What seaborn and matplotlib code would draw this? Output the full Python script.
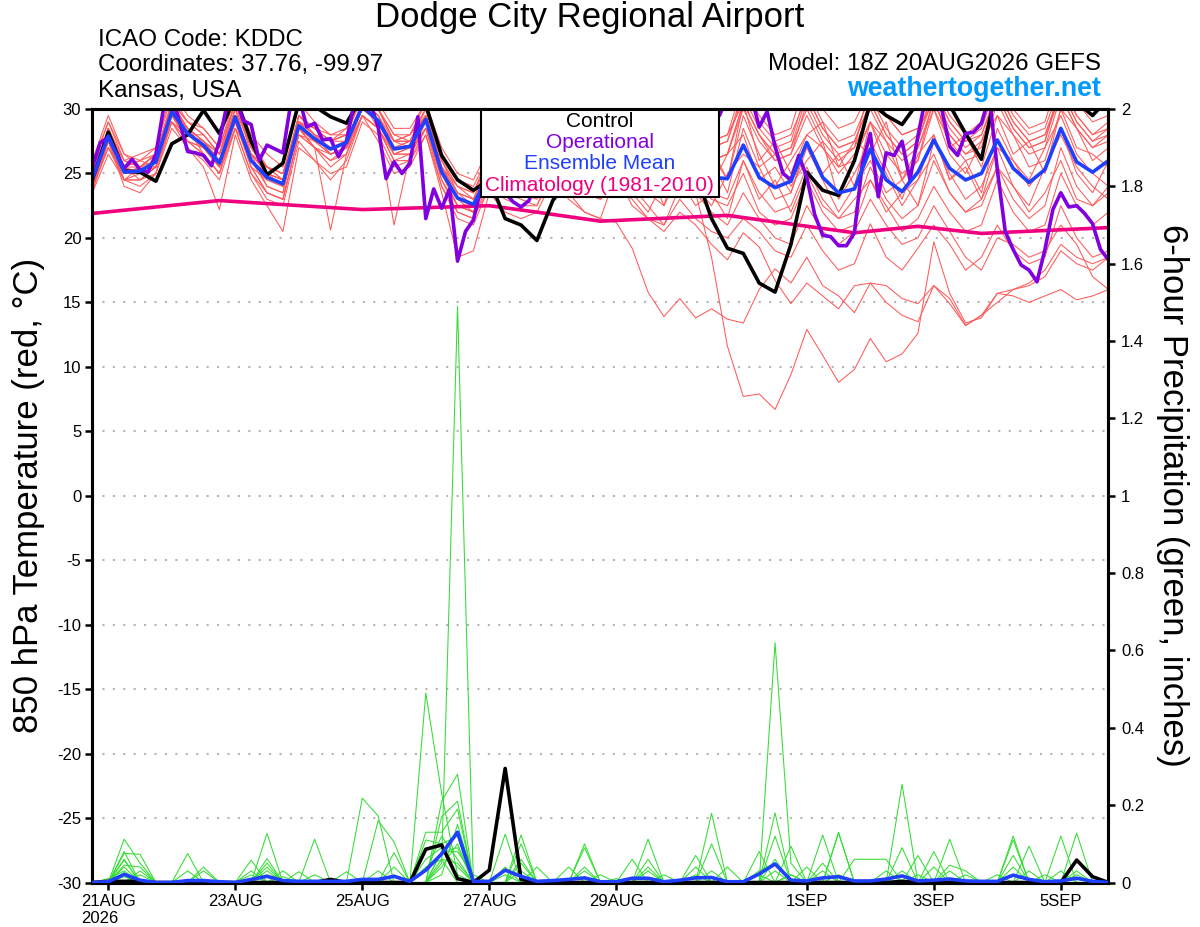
import numpy as np
import pandas as pd
import matplotlib
matplotlib.use("Agg")
import matplotlib.pyplot as plt
from matplotlib.patches import Rectangle
import seaborn as sns

# ---------------- data ----------------
START = "2026-08-20 18:00"
times6 = pd.date_range(START, periods=65, freq="6h")
times3 = pd.date_range(START, periods=129, freq="3h")

# control run (black), 850 hPa temperature, 6-hourly
control_temp = [24.5,
    28.2, 25.2, 25.1, 24.4,  27.3, 28.0, 29.9, 28.1,  31.0, 27.5, 24.9, 25.8,  30.5, 30.2, 29.4, 28.9,
    31.0, 31.5, 31.0, 31.5,  30.3, 26.4, 24.5, 23.7,  24.5, 21.5, 21.0, 19.8,  22.9, 24.5, 26.0, 27.0,
    27.5, 28.0, 28.5, 27.5,  26.5, 25.0, 21.5, 19.2,  18.8, 16.5, 15.8, 19.5,  25.1, 23.7, 23.3, 26.0,
    30.5, 29.5, 28.8, 30.5,  31.0, 30.3, 28.1, 26.1,  32.0, 31.5, 31.0, 31.5,  31.5, 30.5, 29.5, 30.8]

# operational run (purple), 3-hourly
oper_temp = [25.5,
    27.4, 27.8, 26.6, 25.4, 26.1, 25.3, 25.1, 26.5,
    30.2, 31.0, 29.0, 26.7, 26.6, 26.4, 25.6, 27.5,
    30.5, 31.0, 29.1, 28.8, 26.0, 27.2, 26.9, 26.6,
    30.5, 31.0, 28.6, 28.9, 27.6, 27.7, 26.3, 27.5,
    30.5, 31.0, 30.5, 28.6, 24.6, 25.9, 25.0, 25.8,
    29.4, 21.5, 23.8, 22.3, 23.8, 18.2, 20.5, 21.4,
    24.0, 25.0, 24.5, 23.5, 22.8, 22.4, 22.9, 24.5,
    26.0, 27.5, 28.5, 27.0, 26.0, 25.5, 27.0, 28.5,
    29.0, 27.5, 26.0, 25.0, 26.5, 28.0, 29.0, 28.0,
    26.5, 26.0, 27.5, 29.0, 30.5, 30.5, 29.5, 31.0,
    31.5, 31.5, 31.0, 28.6, 29.8, 27.1, 25.0, 24.5,
    26.4, 24.7, 21.8, 20.2, 20.1, 19.4, 19.4, 20.4,
    25.8, 28.1, 23.2, 26.6, 26.4, 27.5, 24.5, 27.9,
    31.0, 31.5, 30.0, 27.1, 26.4, 28.1, 28.2, 28.9,
    31.0, 25.3, 20.5, 19.1, 17.9, 17.5, 16.6, 19.1,
    22.2, 23.5, 22.4, 22.5, 21.9, 21.1, 19.1, 18.3]

# ensemble mean (blue)
mean_temp = [24.6,
    27.9, 25.1, 25.2, 25.9,  29.8, 28.1, 27.2, 25.8,  29.4, 26.0, 24.7, 24.2,  28.7, 27.7, 26.9, 27.4,
    30.2, 29.1, 26.9, 27.1,  29.2, 25.1, 23.1, 22.6,  25.0, 24.5, 24.0, 23.8,  26.0, 25.0, 24.5, 24.3,
    26.5, 25.0, 24.0, 24.0,  26.0, 25.0, 24.7, 24.6,  27.2, 24.7, 23.9, 24.4,  27.4, 24.7, 23.5, 23.8,
    26.9, 24.5, 23.6, 25.1,  27.6, 25.4, 24.5, 25.0,  27.6, 25.4, 24.3, 25.3,  28.5, 25.9, 25.1, 26.0]

# climatology (pink) vertices
clim_times = pd.to_datetime(["2026-08-20 18:00", "2026-08-22 18:00", "2026-08-25 00:00",
                             "2026-08-27 00:00", "2026-08-27 18:00", "2026-08-28 18:00",
                             "2026-08-30 18:00", "2026-09-01 18:00", "2026-09-02 18:00",
                             "2026-09-03 18:00", "2026-09-05 18:00"])
clim_temp = [21.9, 22.9, 22.2, 22.5, 22.0, 21.3, 21.75, 20.4, 20.9, 20.35, 20.8]

# ensemble members (red), 6-hourly
temp_m01 = [24.0, 27.5, 24.0, 23.5, 25.0, 29.0, 27.0, 26.0, 24.5, 28.5, 25.0, 23.0, 22.5, 27.5, 26.0, 24.5, 26.0,
    29.5, 27.5, 25.0, 25.5, 28.0, 23.5, 18.5, 19.0, 23.5, 22.0, 21.5, 22.0, 24.5, 23.0, 22.0, 21.5,
    25.0, 22.5, 21.5, 21.0, 24.0, 23.5, 18.5, 11.6, 7.7, 7.9, 6.7, 9.4, 12.9, 10.9, 8.8, 9.8,
    12.2, 10.4, 11.0, 12.6, 19.7, 15.7, 13.4, 13.8, 15.7, 16.0, 16.3, 17.0, 19.0, 18.0, 17.5, 18.5]
temp_m02 = [25.0, 28.5, 26.0, 26.5, 27.0, 31.0, 29.0, 28.5, 27.0, 30.5, 27.5, 25.5, 24.5, 29.5, 28.5, 28.0, 28.0,
    31.5, 30.0, 28.0, 27.5, 30.0, 26.5, 24.5, 23.5, 26.0, 25.5, 25.0, 24.5, 25.5, 23.5, 22.0, 21.5,
    21.2, 19.2, 15.8, 13.9, 15.3, 13.8, 14.5, 13.7, 13.4, 16.0, 17.6, 16.5, 18.5, 16.3, 15.5, 14.2,
    16.5, 16.3, 15.3, 14.9, 16.3, 15.3, 13.2, 14.0, 15.7, 15.5, 15.0, 15.5, 16.0, 15.2, 15.5, 16.0]
temp_m03 = [24.5, 28.0, 25.5, 24.5, 25.5, 30.5, 28.5, 26.5, 25.0, 29.0, 25.5, 23.5, 23.0, 28.0, 27.0, 25.5, 26.5,
    30.5, 28.5, 26.0, 26.0, 28.5, 24.0, 22.0, 21.5, 24.0, 23.5, 23.0, 22.5, 25.5, 24.5, 23.5, 23.0,
    24.0, 23.0, 21.5, 20.5, 22.0, 21.0, 19.5, 18.3, 20.4, 19.3, 16.7, 14.9, 16.5, 15.5, 14.5, 16.3,
    16.5, 15.0, 14.0, 13.5, 16.3, 14.9, 13.2, 14.0, 15.0, 16.0, 16.5, 17.5, 19.5, 18.5, 18.0, 18.5]
temp_m04 = [25.5, 29.0, 26.5, 25.5, 26.5, 30.0, 28.5, 27.5, 26.5, 30.0, 27.0, 25.5, 25.0, 29.5, 28.0, 27.5, 28.5,
    31.0, 30.0, 27.5, 28.0, 29.5, 26.0, 24.0, 23.5, 26.5, 25.0, 24.5, 24.0, 27.0, 25.5, 24.5, 24.0,
    26.0, 24.0, 22.5, 21.0, 23.0, 21.5, 20.5, 20.0, 21.5, 20.5, 19.0, 18.5, 21.0, 19.0, 17.5, 18.0,
    21.1, 18.5, 17.5, 19.2, 21.0, 19.5, 17.5, 18.5, 21.0, 19.0, 18.0, 18.5, 22.5, 20.0, 18.5, 19.0]
temp_m05 = [23.5, 26.5, 24.5, 24.0, 25.0, 28.5, 27.0, 25.5, 22.2, 28.0, 24.5, 22.5, 20.5, 27.0, 26.0, 25.0, 25.5,
    29.0, 28.0, 25.5, 26.0, 28.0, 24.0, 21.5, 21.0, 24.0, 23.0, 22.5, 22.5, 25.0, 24.0, 23.5, 23.0,
    26.5, 25.0, 23.5, 22.5, 25.0, 23.5, 22.0, 21.0, 23.5, 21.5, 20.0, 19.5, 22.5, 20.5, 19.5, 20.5,
    23.0, 21.0, 19.5, 20.0, 22.5, 20.5, 18.5, 17.5, 20.0, 19.5, 18.5, 19.0, 21.0, 19.5, 17.0, 16.0]
temp_m06 = [24.5, 27.0, 25.0, 25.5, 26.5, 30.5, 29.0, 28.0, 26.5, 30.5, 27.0, 25.0, 24.0, 29.0, 28.5, 27.5, 28.0,
    31.0, 30.0, 27.5, 28.0, 30.0, 25.5, 23.0, 22.0, 25.5, 24.5, 24.0, 23.5, 26.5, 25.0, 24.5, 24.0,
    27.0, 25.5, 24.0, 23.5, 26.0, 24.5, 23.0, 22.5, 25.0, 22.0, 21.0, 21.5, 24.5, 22.0, 20.5, 21.0,
    24.5, 22.5, 20.5, 21.5, 24.0, 22.0, 20.5, 21.0, 24.5, 22.0, 20.5, 21.0, 25.0, 22.5, 21.0, 22.0]
temp_m07 = [25.0, 28.0, 25.5, 25.0, 26.0, 29.5, 28.0, 27.0, 25.5, 29.0, 26.5, 25.0, 24.5, 28.5, 27.0, 26.0, 27.0,
    30.0, 29.0, 26.5, 27.0, 29.0, 25.5, 23.5, 22.5, 25.5, 25.0, 24.5, 24.0, 26.5, 25.5, 25.0, 24.5,
    27.5, 26.0, 24.5, 24.0, 26.5, 25.0, 23.5, 23.0, 26.0, 23.5, 22.0, 22.5, 25.5, 23.0, 21.5, 22.0,
    25.5, 23.0, 21.5, 22.5, 26.0, 23.5, 22.0, 22.5, 25.5, 23.0, 21.5, 22.5, 27.0, 24.0, 22.5, 23.5]
temp_m08 = [26.0, 29.5, 26.5, 26.0, 27.0, 31.5, 29.5, 28.5, 27.0, 31.0, 28.0, 26.5, 25.5, 30.5, 29.0, 28.0, 28.5,
    32.0, 30.5, 28.5, 28.5, 30.5, 27.0, 25.0, 24.5, 27.0, 26.5, 26.0, 25.5, 28.0, 27.0, 26.5, 26.0,
    30.5, 28.0, 26.5, 27.0, 30.0, 28.5, 27.0, 27.5, 31.0, 28.5, 27.0, 27.5, 31.5, 29.0, 27.5, 28.0,
    31.0, 28.5, 27.0, 28.0, 31.5, 29.0, 27.5, 28.5, 32.0, 29.5, 28.0, 28.5, 32.0, 29.5, 28.0, 29.0]
temp_m09 = [23.8, 27.0, 24.5, 25.0, 26.0, 29.0, 27.5, 26.5, 25.0, 29.5, 25.5, 23.5, 23.0, 28.0, 27.5, 26.5, 27.0,
    30.5, 29.5, 27.0, 27.5, 29.5, 25.0, 22.5, 22.0, 25.0, 24.5, 24.5, 24.0, 26.5, 25.5, 25.0, 25.0,
    28.0, 29.5, 24.0, 26.5, 27.0, 28.5, 26.5, 24.5, 30.5, 26.0, 27.5, 25.0, 28.0, 29.0, 25.5, 27.5,
    26.5, 29.0, 24.5, 26.0, 31.0, 27.0, 28.0, 25.5, 29.5, 26.5, 27.5, 25.0, 30.0, 28.5, 26.0, 27.0]
temp_m10 = [24.8, 28.5, 25.5, 26.0, 25.5, 29.5, 28.5, 27.5, 26.0, 29.0, 26.5, 25.5, 25.0, 29.0, 28.0, 27.5, 27.5,
    30.5, 29.5, 27.0, 27.5, 29.5, 26.0, 24.0, 23.0, 25.5, 25.0, 25.0, 24.5, 27.0, 26.0, 25.5, 25.5,
    26.5, 25.0, 27.0, 23.5, 25.5, 27.5, 24.0, 26.5, 28.0, 24.5, 25.5, 23.5, 27.5, 25.0, 26.5, 24.0,
    29.0, 25.5, 23.0, 26.5, 28.0, 24.5, 26.0, 23.5, 28.5, 26.0, 24.5, 27.0, 29.5, 26.5, 25.0, 24.0]
temp_m11 = [25.2, 27.5, 24.5, 24.5, 25.5, 29.0, 28.0, 28.0, 26.5, 30.5, 26.5, 24.0, 23.5, 28.5, 27.0, 26.0, 26.5,
    29.5, 28.5, 21.0, 26.5, 29.0, 24.5, 22.5, 22.0, 25.0, 24.5, 24.0, 23.5, 26.0, 25.5, 25.0, 24.5,
    31.5, 29.0, 27.5, 28.0, 31.0, 29.0, 27.5, 28.0, 32.0, 29.5, 28.0, 28.5, 32.5, 30.0, 28.5, 29.0,
    31.5, 29.5, 28.0, 28.5, 32.0, 29.5, 28.0, 29.0, 32.5, 30.0, 28.5, 29.0, 33.0, 30.5, 29.0, 29.5]
temp_m12 = [24.2, 28.5, 25.5, 25.5, 26.5, 30.5, 28.5, 27.5, 26.0, 29.5, 26.0, 24.0, 23.5, 29.5, 28.5, 27.5, 28.0,
    31.5, 30.0, 28.0, 28.0, 30.5, 26.0, 23.5, 23.0, 26.0, 25.5, 25.0, 24.5, 27.5, 26.5, 26.0, 25.5,
    29.5, 27.5, 26.0, 26.5, 29.0, 27.0, 26.0, 26.5, 30.0, 27.5, 26.0, 26.5, 30.5, 28.0, 26.5, 27.0,
    30.0, 27.5, 26.0, 27.0, 30.5, 28.0, 26.5, 27.5, 31.0, 28.5, 27.0, 27.5, 31.5, 29.0, 27.5, 28.0]
temp_m13 = [25.5, 28.0, 26.0, 25.5, 25.5, 29.5, 27.5, 27.0, 25.5, 28.5, 26.5, 25.5, 25.0, 28.5, 27.5, 27.0, 27.5,
    30.5, 29.0, 27.5, 27.0, 28.5, 25.5, 24.0, 23.5, 26.0, 25.5, 25.0, 25.0, 27.5, 26.5, 26.0, 25.5,
    27.0, 24.0, 25.5, 22.5, 26.5, 24.0, 22.5, 25.0, 26.5, 25.5, 23.0, 23.5, 27.0, 24.5, 22.0, 24.0,
    26.0, 23.5, 24.5, 22.5, 27.5, 25.0, 23.0, 24.0, 27.0, 24.0, 22.5, 25.5, 28.0, 25.5, 24.0, 23.0]
temp_m14 = [24.0, 27.0, 25.0, 25.0, 26.0, 30.0, 28.5, 27.0, 25.5, 30.0, 26.0, 24.5, 24.0, 29.0, 28.0, 26.5, 27.0,
    30.0, 29.0, 26.5, 27.0, 29.5, 25.5, 23.0, 22.5, 25.5, 25.0, 24.5, 24.5, 27.0, 26.0, 25.5, 25.0,
    30.0, 28.0, 26.5, 27.0, 30.5, 28.5, 27.0, 27.5, 31.5, 29.0, 27.5, 28.0, 31.0, 28.5, 27.0, 27.5,
    30.5, 28.0, 26.5, 27.5, 31.0, 28.5, 27.0, 28.0, 31.5, 29.0, 27.5, 28.0, 31.5, 29.0, 27.5, 28.5]
temp_m15 = [25.8, 29.0, 26.0, 25.5, 26.5, 30.5, 29.0, 28.0, 26.5, 30.0, 27.0, 25.5, 24.5, 29.5, 28.5, 27.5, 28.0,
    31.0, 30.0, 27.5, 27.5, 30.0, 26.5, 24.5, 24.0, 26.5, 26.0, 25.5, 25.0, 28.0, 27.0, 26.5, 26.0,
    28.5, 25.5, 27.5, 26.0, 27.0, 25.5, 27.0, 24.5, 29.5, 26.5, 24.0, 26.0, 28.0, 27.0, 25.0, 26.5,
    29.0, 27.5, 24.5, 27.0, 30.0, 26.5, 25.0, 27.5, 29.5, 28.0, 25.5, 26.0, 30.0, 27.0, 26.5, 25.5]
temp_m16 = [23.6, 27.5, 24.5, 24.5, 25.0, 29.5, 27.5, 26.5, 25.0, 28.5, 25.0, 23.5, 23.0, 28.0, 27.0, 20.6, 26.5,
    29.5, 28.5, 26.0, 26.5, 28.5, 24.5, 22.0, 21.5, 24.5, 24.0, 23.5, 23.5, 26.0, 25.0, 24.5, 24.0,
    31.0, 28.5, 27.0, 27.5, 29.5, 27.5, 26.0, 26.5, 30.5, 28.0, 26.5, 27.0, 31.0, 28.5, 27.0, 27.5,
    30.5, 28.0, 26.5, 27.5, 31.5, 29.0, 27.5, 28.0, 31.0, 28.5, 27.0, 27.5, 32.0, 29.5, 28.0, 28.5]
temp_m17 = [25.0, 28.5, 25.5, 26.0, 26.5, 30.0, 28.5, 27.5, 26.0, 29.5, 26.5, 25.0, 24.5, 29.0, 28.0, 27.0, 27.5,
    30.5, 29.5, 27.5, 27.5, 29.5, 25.5, 23.5, 23.0, 26.0, 25.0, 24.5, 24.0, 27.0, 26.0, 25.5, 25.0,
    29.0, 27.0, 25.5, 26.0, 29.5, 27.5, 26.0, 26.5, 30.5, 28.0, 26.0, 26.5, 29.5, 27.0, 25.5, 26.0,
    29.0, 26.5, 25.0, 26.0, 30.0, 27.5, 26.0, 26.5, 30.5, 28.0, 26.5, 27.0, 31.0, 28.5, 27.0, 27.5]
temp_m18 = [24.4, 27.5, 25.5, 25.0, 25.5, 29.0, 27.5, 27.0, 26.0, 29.0, 26.0, 25.0, 24.5, 28.5, 27.5, 26.5, 27.0,
    29.5, 28.5, 26.5, 26.5, 28.5, 25.0, 23.0, 22.5, 25.0, 24.5, 24.0, 23.5, 26.5, 25.5, 25.0, 24.5,
    25.5, 23.5, 22.0, 24.5, 24.5, 22.5, 23.5, 21.5, 26.0, 23.0, 24.5, 22.0, 25.0, 22.5, 21.5, 23.0,
    24.5, 22.0, 23.5, 24.5, 26.5, 23.5, 22.0, 23.0, 25.5, 24.0, 22.0, 23.5, 26.0, 23.0, 22.5, 24.0]
temp_m19 = [24.9, 28.0, 25.0, 25.5, 26.0, 30.0, 28.0, 27.5, 26.5, 29.5, 26.0, 25.0, 24.5, 29.0, 27.5, 27.0, 27.5,
    30.5, 29.0, 27.0, 27.0, 29.5, 25.0, 23.0, 22.5, 25.5, 25.0, 24.5, 24.0, 26.5, 25.5, 25.0, 24.5,
    30.0, 27.5, 26.0, 26.5, 31.0, 29.0, 27.5, 28.0, 30.5, 28.0, 26.5, 27.0, 30.0, 27.5, 26.0, 27.0,
    32.0, 29.5, 28.0, 28.5, 30.5, 28.0, 26.5, 27.0, 31.5, 29.0, 27.5, 28.0, 31.0, 28.5, 27.0, 28.0]
temp_m20 = [24.3, 27.5, 24.5, 25.5, 26.5, 29.5, 28.0, 27.0, 25.5, 29.0, 25.5, 24.5, 24.0, 28.5, 27.0, 26.5, 27.0,
    29.5, 28.5, 26.5, 26.5, 29.0, 25.0, 22.5, 22.0, 24.5, 24.0, 23.5, 23.0, 26.0, 25.0, 24.5, 24.0,
    26.0, 28.0, 23.5, 25.0, 27.5, 24.5, 26.0, 23.5, 28.5, 25.5, 26.5, 24.0, 26.0, 27.5, 23.0, 25.0,
    27.5, 25.0, 22.5, 24.5, 28.0, 24.5, 25.5, 23.0, 27.0, 26.0, 24.0, 25.5, 28.5, 25.0, 23.5, 26.0]

# 6-hour precipitation (inches)
control_precip = [0,
    0.003, 0.003, 0.003, 0, 0, 0, 0, 0, 0, 0, 0, 0, 0, 0, 0.008, 0,
    0, 0, 0, 0, 0.086, 0.097, 0.01, 0, 0.032, 0.295, 0.008, 0, 0, 0, 0, 0,
    0, 0, 0, 0, 0, 0, 0, 0, 0, 0, 0, 0, 0, 0, 0, 0,
    0, 0, 0.003, 0, 0, 0, 0, 0, 0, 0, 0, 0, 0, 0.058, 0.015, 0]
mean_precip = [0,
    0.002, 0.021, 0.006, 0, 0, 0.005, 0.005, 0.002, 0, 0.008, 0.016, 0.005, 0.003, 0.003, 0.003, 0.003,
    0.008, 0.008, 0.016, 0.003, 0.032, 0.074, 0.13, 0.003, 0.003, 0.032, 0.016, 0.003, 0.005, 0.008, 0.012, 0.002,
    0.002, 0.011, 0.011, 0.002, 0.006, 0.012, 0.013, 0.002, 0.002, 0.022, 0.048, 0.006, 0.004, 0.012, 0.015, 0.004,
    0.004, 0.009, 0.017, 0.004, 0.006, 0.009, 0.004, 0.003, 0.003, 0.019, 0.008, 0.002, 0.004, 0.011, 0.003, 0]

precip_g01 = [0, 0, .112, .05, 0, 0, 0, 0, 0, 0, 0, .127, 0, 0, 0, 0, 0, .218, .172, 0, 0, .49, .23, .02, 0,
    0, 0, 0, 0, 0, 0, 0, 0, 0, 0, .112, 0, 0, 0, 0, 0, 0, 0, .18, 0, 0, 0, 0, 0, 0, 0, .254, 0, 0, 0, 0, 0, 0, .12, 0, 0, 0, 0, 0, 0]
precip_g02 = [0, 0, .08, 0, 0, 0, .075, 0, 0, 0, 0, 0, 0, 0, .112, 0, 0, 0, 0, 0, 0, 0, .05, 1.49, 0,
    0, 0, .123, 0, 0, 0, 0, 0, 0, 0, 0, 0, 0, 0, .179, 0, 0, 0, .62, .05, 0, 0, .13, 0, 0, 0, 0, 0, 0, 0, 0, 0, 0, 0, 0, 0, 0, .128, 0, 0]
precip_g03 = [0, 0, .075, .073, 0, 0, 0, 0, 0, 0, .058, 0, 0, 0, 0, 0, 0, 0, .16, .105, 0, 0, .21, .28, 0,
    0, 0, 0, 0, 0, 0, .1, 0, 0, 0, 0, 0, 0, .07, 0, 0, 0, .08, 0, 0, 0, .123, 0, 0, 0, 0, 0, 0, 0, .112, 0, 0, 0, 0, 0, 0, .12, 0, 0, 0]
precip_g04 = [0, 0, .058, 0, 0, 0, 0, .04, 0, 0, 0, .062, 0, 0, 0, 0, 0, 0, 0, .077, 0, 0, .17, .21, 0,
    0, .125, 0, 0, 0, 0, 0, 0, 0, 0, .06, 0, 0, 0, 0, 0, 0, 0, .12, 0, 0, 0, .128, 0, 0, 0, 0, 0, .08, 0, 0, 0, 0, 0, .094, 0, 0, 0, 0, 0]
precip_g05 = [0, 0, .045, .04, 0, 0, 0, 0, 0, 0, 0, 0, .03, 0, 0, 0, 0, 0, 0, 0, 0, .13, .13, .19, 0,
    0, 0, .10, 0, 0, 0, 0, 0, 0, .06, 0, 0, 0, 0, .1, 0, 0, 0, 0, .094, 0, 0, 0, .06, .06, .06, 0, 0, 0, 0, 0, 0, 0, .11, 0, 0, 0, 0, 0, 0]
precip_g06 = [0, .01, .03, 0, 0, 0, 0, 0, 0, 0, 0, .05, 0, .028, 0, 0, 0, 0, 0, 0, 0, .11, .1, .12, 0,
    0, 0, 0, .04, 0, 0, .09, 0, 0, 0, 0, 0, 0, 0, 0, .04, 0, 0, 0, 0, .04, 0, 0, 0, 0, 0, .09, 0, 0, 0, 0, 0, 0, .07, 0, 0, 0, 0, 0, 0]
precip_g07 = [0, 0, .02, 0, 0, 0, 0, .03, 0, 0, 0, 0, 0, 0, 0, 0, .028, 0, 0, 0, 0, 0, .08, .08, .02,
    0, 0, 0, 0, 0, .04, 0, 0, 0, 0, .04, 0, 0, .04, 0, 0, 0, 0, 0, 0, 0, .05, 0, 0, 0, 0, 0, .07, 0, .045, .03, 0, 0, 0, 0, 0, 0, 0, 0, 0]
precip_g08 = [0, 0, 0, .03, 0, 0, 0, 0, 0, 0, 0, .03, 0, 0, 0, 0, 0, 0, 0, 0, 0, 0, .06, .05, 0,
    0, 0, .03, 0, 0, 0, .04, 0, 0, 0, 0, 0, 0, 0, 0, 0, 0, .03, .05, 0, 0, 0, 0, 0, 0, .03, 0, 0, 0, 0, 0, 0, 0, 0, 0, .02, 0, 0, 0, 0]
precip_g09 = [0, 0, .015, 0, 0, 0, 0, 0, 0, 0, .02, 0, 0, 0, 0, 0, 0, 0, 0, .02, 0, .04, .06, 0, 0,
    0, .02, 0, 0, 0, 0, 0, 0, .01, 0, 0, 0, 0, 0, 0, 0, 0, 0, 0, .02, 0, 0, 0, 0, 0, 0, 0, 0, 0, 0, 0, 0, .02, 0, 0, 0, 0, .03, 0, 0]
precip_g10 = [0, 0, .04, 0, 0, 0, 0, 0, 0, 0, 0, 0, .015, 0, 0, 0, 0, 0, 0, 0, 0, .06, .09, .04, 0,
    0, .04, 0, 0, 0, 0, 0, 0, 0, 0, 0, .02, 0, 0, 0, 0, 0, 0, .03, 0, 0, 0, .02, 0, 0, 0, 0, 0, 0, .03, 0, 0, 0, 0, 0, 0, 0, 0, 0, 0]
precip_g11 = [0, 0, 0, .02, 0, 0, 0, 0, 0, 0, 0, .02, 0, 0, 0, 0, 0, 0, .03, 0, 0, 0, .04, .1, 0,
    0, 0, .05, 0, 0, 0, 0, .02, 0, 0, 0, 0, 0, 0, .03, 0, 0, 0, 0, 0, 0, 0, 0, 0, 0, 0, .03, 0, 0, 0, 0, 0, 0, .04, 0, 0, 0, 0, 0, 0]
precip_g12 = [0, 0, .06, 0, 0, 0, 0, 0, 0, 0, 0, 0, 0, 0, .02, 0, 0, 0, 0, 0, 0, .03, .12, .06, 0,
    0, 0, 0, 0, 0, 0, 0, 0, 0, 0, .03, 0, 0, 0, 0, 0, 0, 0, .06, 0, 0, 0, 0, 0, 0, 0, 0, 0, 0, 0, .02, 0, 0, 0, 0, 0, .03, 0, 0, 0]
precip_g13 = [0, 0, 0, 0, 0, 0, .03, 0, 0, 0, 0, .04, 0, 0, 0, 0, 0, 0, 0, 0, 0, 0, .02, .15, .01,
    0, 0, 0, 0, 0, 0, .03, 0, 0, 0, 0, 0, 0, 0, 0, 0, 0, .02, 0, 0, 0, .03, 0, 0, 0, 0, 0, 0, .04, 0, 0, 0, 0, 0, .03, 0, 0, 0, 0, 0]
precip_g14 = [0, 0, .025, 0, 0, 0, 0, 0, 0, 0, .03, 0, 0, 0, 0, 0, 0, 0, 0, .04, 0, 0, .08, .09, 0,
    0, 0, .06, 0, 0, 0, 0, 0, 0, 0, 0, 0, 0, .02, 0, 0, 0, 0, 0, .02, 0, 0, 0, 0, 0, 0, 0, .02, 0, 0, 0, 0, 0, 0, 0, 0, 0, .02, 0, 0]

x_tick_dates = pd.to_datetime(["2026-08-21", "2026-08-23", "2026-08-25", "2026-08-27",
                               "2026-08-29", "2026-09-01", "2026-09-03", "2026-09-05"])
x_tick_labels = ["21AUG\n2026", "23AUG", "25AUG", "27AUG", "29AUG", "1SEP", "3SEP", "5SEP"]
temp_ticks = list(range(-30, 31, 5))
precip_ticks = [0, 0.2, 0.4, 0.6, 0.8, 1.0, 1.2, 1.4, 1.6, 1.8, 2.0]
precip_tick_labels = ["0", "0.2", "0.4", "0.6", "0.8", "1", "1.2", "1.4", "1.6", "1.8", "2"]

# ---------------- tables ----------------
temp_members = [temp_m01, temp_m02, temp_m03, temp_m04, temp_m05, temp_m06, temp_m07, temp_m08, temp_m09, temp_m10,
                temp_m11, temp_m12, temp_m13, temp_m14, temp_m15, temp_m16, temp_m17, temp_m18, temp_m19, temp_m20]
precip_members = [precip_g01, precip_g02, precip_g03, precip_g04, precip_g05, precip_g06, precip_g07,
                  precip_g08, precip_g09, precip_g10, precip_g11, precip_g12, precip_g13, precip_g14]
for arr in temp_members + precip_members + [control_temp, mean_temp, control_precip, mean_precip]:
    assert len(arr) == 65, len(arr)
assert len(oper_temp) == 129

df_t = pd.concat([pd.DataFrame({"time": times6, "value": m, "member": k})
                  for k, m in enumerate(temp_members)], ignore_index=True)
df_p = pd.concat([pd.DataFrame({"time": times6, "value": m, "member": k})
                  for k, m in enumerate(precip_members)], ignore_index=True)

# ---------------- style ----------------
sns.set_style("white")
plt.rcParams["font.family"] = ["Liberation Sans", "DejaVu Sans"]
plt.rcParams["axes.unicode_minus"] = False
plt.rcParams["text.color"] = "black"
plt.rcParams["axes.labelcolor"] = "black"
plt.rcParams["xtick.color"] = "black"
plt.rcParams["ytick.color"] = "black"

RED = "#ff5a5a"
GREEN = "#33dd33"
PURPLE = "#8000e0"
BLUE = "#1f40ff"
PINK = "#f0007f"

fig = plt.figure(figsize=(12, 9.27), dpi=100)
ax1 = fig.add_axes([0.0770, 0.0480, 0.8467, 0.8344])
ax2 = ax1.twinx()

# temperature
sns.lineplot(data=df_t, x="time", y="value", units="member", estimator=None,
             color=RED, lw=0.75, ax=ax1, legend=False, zorder=2)
sns.lineplot(x=clim_times, y=clim_temp, color=PINK, lw=2.6, ax=ax1, zorder=3)
sns.lineplot(x=times6, y=control_temp, color="black", lw=2.6, ax=ax1, zorder=4)
sns.lineplot(x=times3, y=oper_temp, color=PURPLE, lw=2.6, ax=ax1, zorder=5)
sns.lineplot(x=times6, y=mean_temp, color=BLUE, lw=2.6, ax=ax1, zorder=6)

# precipitation
sns.lineplot(data=df_p, x="time", y="value", units="member", estimator=None,
             color=GREEN, lw=0.75, ax=ax2, legend=False, zorder=2)
sns.lineplot(x=times6, y=control_precip, color="black", lw=2.6, ax=ax2, zorder=4)
sns.lineplot(x=times6, y=mean_precip, color=BLUE, lw=2.6, ax=ax2, zorder=5)

# axes
ax1.set_xlim(times6[0], times6[-1])
ax1.set_ylim(-30, 30)
ax2.set_ylim(0, 2)
ax1.set_yticks(temp_ticks)
ax1.set_yticklabels([str(t) for t in temp_ticks])
ax2.set_yticks(precip_ticks)
ax2.set_yticklabels(precip_tick_labels)
ax1.set_xticks(x_tick_dates)
ax1.set_xticklabels(x_tick_labels)
for lbl in ax1.get_xticklabels():
    lbl.set_multialignment("left")
ax1.set_xlabel("")

ax1.yaxis.grid(True, linestyle=(0, (1, 4)), color="#b4b4b4", lw=1.5)
ax1.xaxis.grid(False)
ax2.grid(False)
ax1.set_axisbelow(True)

for ax in (ax1, ax2):
    for sp in ax.spines.values():
        sp.set_linewidth(2.2)
        sp.set_color("black")
ax1.tick_params(axis="both", which="major", direction="out", length=5, width=1.8,
                labelsize=12, pad=3, colors="black", left=True, bottom=True)
ax2.tick_params(axis="y", which="major", direction="out", length=5, width=1.8,
                labelsize=12, pad=4, right=True, colors="black")

ax1.set_ylabel("850 hPa Temperature (red, °C)", fontsize=25, color="black")
ax1.yaxis.set_label_coords(-0.047, 0.5)
ax2.set_ylabel("6-hour Precipitation (green, inches)", fontsize=25, rotation=270, va="bottom", color="black")
ax2.yaxis.set_label_coords(1.047, 0.5)

# legend box
box = Rectangle((0.3826, 0.8862), 0.2338, 0.1138, transform=ax1.transAxes,
                facecolor="white", edgecolor="black", lw=1.5, zorder=10)
ax1.add_patch(box)
leg_items = [("Control", "black"), ("Operational", PURPLE),
             ("Ensemble Mean", BLUE), ("Climatology (1981-2010)", PINK)]
leg_y = [0.9845, 0.9573, 0.9302, 0.9017]
for (txt, col), yy in zip(leg_items, leg_y):
    ax1.text(0.4993, yy, txt, color=col, fontsize=15, ha="center", va="center",
             transform=ax1.transAxes, zorder=11)

# header texts
fig.text(0.4917, 0.9806, "Dodge City Regional Airport", ha="center", va="center", fontsize=25, color="black")
fig.text(0.0817, 0.9568, "ICAO Code: KDDC", ha="left", va="center", fontsize=17.4, color="black")
fig.text(0.0817, 0.9299, "Coordinates: 37.76, -99.97", ha="left", va="center", fontsize=17.4, color="black")
fig.text(0.0817, 0.9018, "Kansas, USA", ha="left", va="center", fontsize=17.4, color="black")
fig.text(0.9175, 0.9310, "Model: 18Z 20AUG2026 GEFS", ha="right", va="center", fontsize=17.4, color="black")
fig.text(0.9175, 0.9040, "weathertogether.net", ha="right", va="center", fontsize=19.3,
         fontweight="bold", color="#0099ff")

fig.savefig("out.png", dpi=100)
